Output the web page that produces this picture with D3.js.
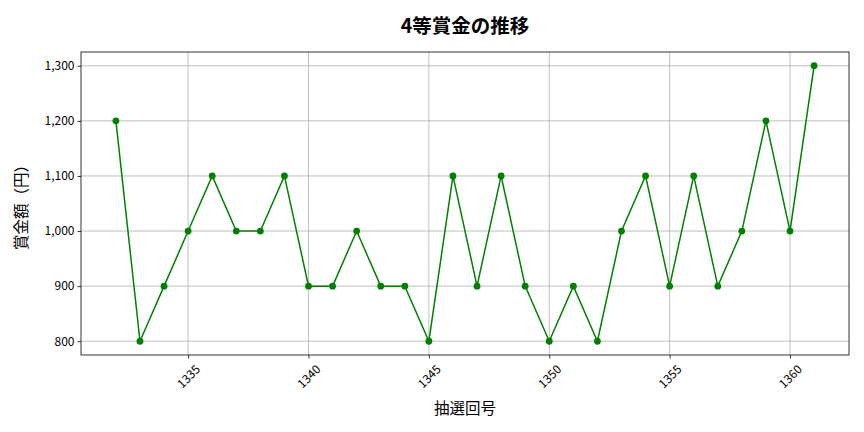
<!DOCTYPE html>
<html>
<head>
<meta charset="utf-8">
<script src="https://cdn.jsdelivr.net/npm/d3@7"></script>
<style>
  body { margin: 0; background: #fff; }
  text { font-family: "Noto Sans CJK JP", "Noto Sans", sans-serif; }
</style>
</head>
<body>
<div id="chart"></div>
<script>
// draw numbers and prize amounts
var draws = [1332, 1333, 1334, 1335, 1336, 1337, 1338, 1339, 1340, 1341,
             1342, 1343, 1344, 1345, 1346, 1347, 1348, 1349, 1350, 1351,
             1352, 1353, 1354, 1355, 1356, 1357, 1358, 1359, 1360, 1361];
var prizes = [1200, 800, 900, 1000, 1100, 1000, 1000, 1100, 900, 900,
              1000, 900, 900, 800, 1100, 900, 1100, 900, 800, 900,
              800, 1000, 1100, 900, 1100, 900, 1000, 1200, 1000, 1300];
var xTicks = [1335, 1340, 1345, 1350, 1355, 1360];
var yTicks = [800, 900, 1000, 1100, 1200, 1300];

var W = 864, H = 432;
var margin = {top: 52, right: 15, bottom: 77, left: 81};
var width = W - margin.left - margin.right,
    height = H - margin.top - margin.bottom;

var svg = d3.select("#chart").append("svg")
    .attr("width", W)
    .attr("height", H);

var g = svg.append("g")
    .attr("transform", "translate(" + margin.left + "," + margin.top + ")");

// matplotlib style 5% padding
var xPad = (d3.max(draws) - d3.min(draws)) * 0.05;
var yPad = (d3.max(prizes) - d3.min(prizes)) * 0.05;
var x = d3.scaleLinear()
    .domain([d3.min(draws) - xPad, d3.max(draws) + xPad])
    .range([0, width]);
var y = d3.scaleLinear()
    .domain([d3.min(prizes) - yPad, d3.max(prizes) + yPad])
    .range([height, 0]);

// grid
g.append("g").selectAll("line").data(xTicks).enter().append("line")
    .attr("x1", d => x(d)).attr("x2", d => x(d))
    .attr("y1", 0).attr("y2", height)
    .attr("stroke", "#b0b0b0").attr("stroke-width", 0.8);
g.append("g").selectAll("line").data(yTicks).enter().append("line")
    .attr("y1", d => y(d)).attr("y2", d => y(d))
    .attr("x1", 0).attr("x2", width)
    .attr("stroke", "#b0b0b0").attr("stroke-width", 0.8);

// axes
var xAxis = g.append("g")
    .attr("transform", "translate(0," + height + ")")
    .call(d3.axisBottom(x).tickValues(xTicks).tickFormat(d3.format("d")).tickSize(3.5).tickSizeOuter(0));
// rotated labels, centred under the tick like matplotlib rotation=45
xAxis.selectAll("text")
    .attr("font-size", 12)
    .attr("fill", "#000")
    .attr("text-anchor", "middle")
    .attr("x", 0).attr("y", 0)
    .attr("dy", "0.35em")
    .attr("transform", "translate(0,21.5) rotate(-45)");

var yAxis = g.append("g")
    .call(d3.axisLeft(y).tickValues(yTicks).tickFormat(d3.format(",")).tickSize(3.5).tickSizeOuter(0));
yAxis.selectAll("text").attr("font-size", 12).attr("fill", "#000");

g.selectAll(".domain").remove();
g.selectAll(".tick line").attr("stroke", "#000").attr("stroke-width", 0.8);

// frame
g.append("rect")
    .attr("width", width).attr("height", height)
    .attr("fill", "none").attr("stroke", "#000").attr("stroke-width", 0.8);

// line + markers
var line = d3.line()
    .x((d, i) => x(draws[i]))
    .y(d => y(d));
g.append("path")
    .datum(prizes)
    .attr("d", line)
    .attr("fill", "none")
    .attr("stroke", "green")
    .attr("stroke-width", 1.5);
g.selectAll("circle.pt").data(prizes).enter().append("circle")
    .attr("class", "pt")
    .attr("cx", (d, i) => x(draws[i]))
    .attr("cy", d => y(d))
    .attr("r", 3.4)
    .attr("fill", "green");

// titles
svg.append("text")
    .attr("x", margin.left + width / 2).attr("y", 33)
    .attr("text-anchor", "middle")
    .attr("font-size", 19.5).attr("font-weight", "bold")
    .text("4等賞金の推移");
svg.append("text")
    .attr("x", margin.left + width / 2).attr("y", 414)
    .attr("text-anchor", "middle")
    .attr("font-size", 15.5)
    .text("抽選回号");
svg.append("text")
    .attr("transform", "translate(27," + (margin.top + height / 2) + ") rotate(-90)")
    .attr("text-anchor", "middle")
    .attr("font-size", 15.5)
    .text("賞金額（円）");
</script>
</body>
</html>
